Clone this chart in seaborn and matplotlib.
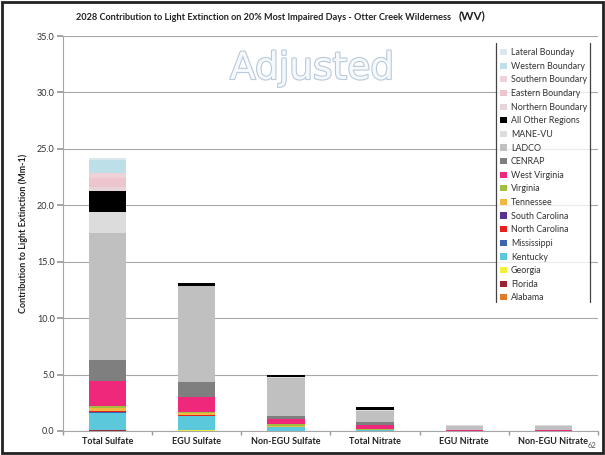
import matplotlib
matplotlib.use("Agg")
import matplotlib.pyplot as plt
import matplotlib.patheffects as pe
from matplotlib.patches import Patch, Rectangle
from matplotlib.lines import Line2D
import numpy as np
import pandas as pd
import seaborn as sns

categories = ["Total Sulfate", "EGU Sulfate", "Non-EGU Sulfate", "Total Nitrate", "EGU Nitrate", "Non-EGU Nitrate"]

# stacking order bottom -> top
series_names = ["Alabama", "Florida", "Georgia", "Kentucky", "Mississippi", "North Carolina",
                "South Carolina", "Tennessee", "Virginia", "West Virginia", "CENRAP", "LADCO",
                "MANE-VU", "All Other Regions", "Northern Boundary", "Eastern Boundary",
                "Southern Boundary", "Western Boundary", "Lateral Bounday"]

alabama   = [0.03, 0.02, 0.01, 0.00, 0.00, 0.00]
florida   = [0.03, 0.02, 0.01, 0.00, 0.00, 0.00]
georgia   = [0.05, 0.03, 0.02, 0.01, 0.00, 0.00]
kentucky  = [1.50, 1.25, 0.30, 0.08, 0.02, 0.02]
mississippi = [0.03, 0.02, 0.01, 0.00, 0.00, 0.00]
n_carolina = [0.12, 0.08, 0.03, 0.01, 0.00, 0.00]
s_carolina = [0.05, 0.03, 0.01, 0.00, 0.00, 0.00]
tennessee = [0.22, 0.12, 0.08, 0.02, 0.00, 0.00]
virginia  = [0.20, 0.10, 0.15, 0.08, 0.01, 0.01]
w_virginia = [2.20, 1.30, 0.40, 0.35, 0.04, 0.04]
cenrap    = [1.85, 1.40, 0.30, 0.25, 0.06, 0.06]
ladco     = [11.30, 8.45, 3.35, 1.00, 0.35, 0.35]
mane_vu   = [1.80, 0.05, 0.10, 0.10, 0.03, 0.03]
all_other = [1.90, 0.22, 0.22, 0.20, 0.04, 0.04]
northern  = [0.30, 0.00, 0.00, 0.01, 0.00, 0.00]
eastern   = [0.80, 0.00, 0.00, 0.01, 0.00, 0.00]
southern  = [0.50, 0.00, 0.00, 0.01, 0.00, 0.00]
western   = [1.10, 0.00, 0.00, 0.02, 0.00, 0.00]
lateral   = [0.20, 0.00, 0.00, 0.00, 0.00, 0.00]

series_values = [alabama, florida, georgia, kentucky, mississippi, n_carolina, s_carolina,
                 tennessee, virginia, w_virginia, cenrap, ladco, mane_vu, all_other,
                 northern, eastern, southern, western, lateral]

series_colors = ["#e07b2a", "#9b2335", "#f2f03a", "#5cc8dc", "#3a66b0", "#e8201c",
                 "#5a3090", "#f0b840", "#a0c040", "#f0287c", "#7f7f7f", "#c0c0c0",
                 "#dcdcdc", "#000000", "#e6d4d8", "#ecc6cc", "#efd2d8", "#bcdfe8", "#dae8ee"]

y_ticks = [0, 5, 10, 15, 20, 25, 30, 35]

sns.set_theme(style="white")
plt.rcParams['font.family'] = ['Lato', 'DejaVu Sans']

fig = plt.figure(figsize=(6.05, 4.55), dpi=100)
ax = fig.add_axes([63/605, 1-431/455, (598-63)/605, (431-36)/455])

df = pd.DataFrame({"category": categories})
cum = np.cumsum(np.array(series_values), axis=0)
# draw from top layer down so lower layers overlay
for i in range(len(series_names) - 1, -1, -1):
    df["v"] = cum[i]
    sns.barplot(data=df, x="category", y="v", order=categories, color=series_colors[i],
                saturation=1, width=0.42, errorbar=None, linewidth=0, ax=ax)

ax.set_ylim(0, 35)
ax.set_xlim(-0.5, len(categories) - 0.5)
ax.set_yticks(y_ticks)
ax.set_yticklabels([f"{t:.1f}" for t in y_ticks], fontsize=6.5, color="#333333")
ax.set_xticks(range(len(categories)))
ax.set_xticklabels(categories, fontsize=6.5, fontweight="bold", color="#222222")
ax.set_xticks(np.arange(-0.5, len(categories) - 0.4, 1), minor=True)
ax.tick_params(axis="x", which="major", length=0, pad=4)
ax.tick_params(axis="x", which="minor", length=3, color="#999999", direction="out", bottom=True)
ax.tick_params(axis="y", length=4, color="#999999", direction="out", left=True, pad=2)
ax.set_xlabel("")
ax.set_ylabel("Contribution to Light Extinction (Mm-1)", fontsize=6.5, fontweight="bold", color="#222222", labelpad=6)
ax.yaxis.grid(True, color="#a6a6a6", linewidth=0.8)
ax.set_axisbelow(True)
for s in ["top", "right"]:
    ax.spines[s].set_visible(False)
ax.spines["left"].set_color("#a6a6a6")
ax.spines["bottom"].set_color("#a6a6a6")
ax.spines["left"].set_linewidth(0.8)
ax.spines["bottom"].set_linewidth(0.8)

# legend (top to bottom = reverse of stacking)
handles = [Patch(facecolor=series_colors[i], edgecolor="none") for i in range(len(series_names) - 1, -1, -1)]
labels = [series_names[i] for i in range(len(series_names) - 1, -1, -1)]
leg = ax.legend(handles, labels, loc="upper left", bbox_to_anchor=(0.811, 0.978),
                fontsize=6.4, frameon=True, fancybox=False, handlelength=0.7, handleheight=0.7,
                handletextpad=0.5, labelspacing=0.52, borderpad=0.4, borderaxespad=0)
leg.get_frame().set_edgecolor("none")
leg.get_frame().set_facecolor("white")
for t in leg.get_texts():
    t.set_color("#333333")

# legend side borders
for xp in (496, 590):
    fig.add_artist(Line2D([xp/605, xp/605], [1-43/455, 1-302/455], transform=fig.transFigure,
                          color="#444444", linewidth=0.9))

# watermark
fig.text(312/605, 1-69/455, "Adjusted", fontsize=27, ha="center", va="center",
         color="#f6f9fc", family="DejaVu Sans",
         path_effects=[pe.withStroke(linewidth=1.6, foreground="#b8c9da")])

# title
fig.text(451/605, 1-17/455,
         "2028 Contribution to Light Extinction on 20% Most Impaired Days - Otter Creek Wilderness",
         fontsize=6.6, fontweight="bold", ha="right", va="center", color="#222222")
fig.text(459/605, 1-16/455, "(WV)", fontsize=8.5, fontweight="bold", ha="left", va="center", color="#222222")

fig.text(592/605, 1-446/455, "62", fontsize=5.5, ha="center", va="center", color="#555555")

fig.patches.append(Rectangle((0.003, 0.004), 0.994, 0.992, transform=fig.transFigure,
                             fill=False, edgecolor="#222222", linewidth=2))

fig.savefig("out.png", dpi=100)
